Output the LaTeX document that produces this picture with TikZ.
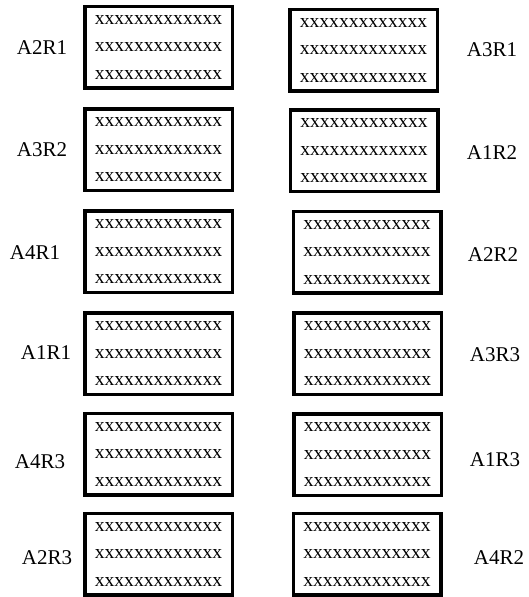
\documentclass[tikz,border=0pt]{standalone}
\usepackage{fontspec}
\setmainfont{Liberation Serif}
\begin{document}
\begin{tikzpicture}[x=1pt,y=1pt,
  cell/.style={draw, line width=3.5pt, fill=white, inner sep=0pt, outer sep=0pt,
    minimum width=147.5pt, minimum height=81.5pt, align=center,
    font=\fontsize{19.6}{27.5}\selectfont},
  tag/.style={inner sep=0pt, font=\fontsize{21}{24}\selectfont}]
\useasboundingbox (0,0) rectangle (529,597);
\fill[white] (0,0) rectangle (529,597);
\newcommand{\xrows}{xxxxxxxxxxxxx\\xxxxxxxxxxxxx\\xxxxxxxxxxxxx}
% left column (y measured from the top edge)
\node[cell] (L1) at (158.5,597-47.5) {\xrows};
\node[cell] (L2) at (158.5,597-150) {\xrows};
\node[cell] (L3) at (158.5,597-252) {\xrows};
\node[cell] (L4) at (158.5,597-354) {\xrows};
\node[cell] (L5) at (158.5,597-454.5) {\xrows};
\node[cell] (L6) at (158.5,597-554.5) {\xrows};
% right column
\node[cell] (R1) at (363.5,597-50.5) {\xrows};
\node[cell] (R2) at (364,597-151) {\xrows};
\node[cell] (R3) at (367,597-252.5) {\xrows};
\node[cell] (R4) at (367.5,597-354) {\xrows};
\node[cell] (R5) at (367.5,597-455) {\xrows};
\node[cell] (R6) at (367,597-554.5) {\xrows};
% labels
\node[tag] (tL1) at (42,597-48) {A2R1};
\node[tag] (tL2) at (42,597-150) {A3R2};
\node[tag] (tL3) at (35,597-253) {A4R1};
\node[tag] (tL4) at (46,597-353) {A1R1};
\node[tag] (tL5) at (40,597-462) {A4R3};
\node[tag] (tL6) at (47,597-558) {A2R3};
\node[tag] (tR1) at (492,597-50) {A3R1};
\node[tag] (tR2) at (492,597-153) {A1R2};
\node[tag] (tR3) at (493,597-255) {A2R2};
\node[tag] (tR4) at (495,597-355) {A3R3};
\node[tag] (tR5) at (495,597-460) {A1R3};
\node[tag] (tR6) at (499,597-558) {A4R2};
\end{tikzpicture}
\end{document}
